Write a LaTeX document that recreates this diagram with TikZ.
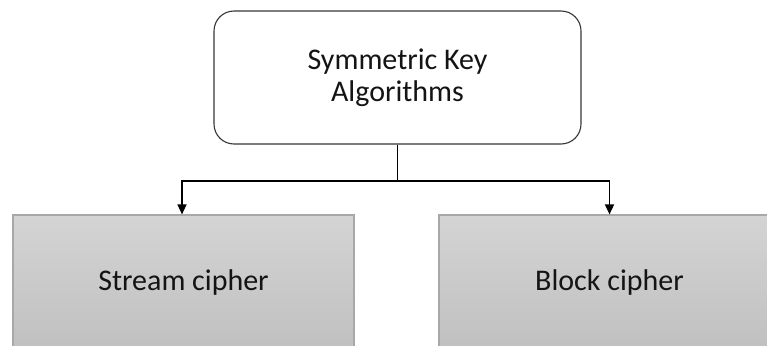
\documentclass[tikz,border=0pt]{standalone}
\usepackage{fontspec}
\setmainfont{Carlito}
\usetikzlibrary{arrows.meta}
\definecolor{edgegray}{HTML}{A8A8A8}
\definecolor{fillTop}{HTML}{D4D4D4}
\definecolor{fillBot}{HTML}{C0C0C0}
\definecolor{ink}{HTML}{141414}
\tikzset{
  rootbox/.style={draw=ink!85, line width=1.1pt, rounded corners=20pt, fill=white,
    minimum width=367pt, minimum height=133pt, inner sep=0pt, align=center,
    font=\fontsize{30}{32}\selectfont, text=ink},
  leafbox/.style={draw=edgegray, line width=1.2pt, top color=fillTop, bottom color=fillBot,
    minimum width=341pt, minimum height=135pt, inner sep=0pt,
    font=\fontsize{30}{32}\selectfont, text=ink},
  link/.style={line width=1.5pt, draw=black},
  arrowlink/.style={link, -{Triangle[width=9pt,length=10pt]}}
}
\begin{document}
\begin{tikzpicture}[x=1pt,y=1pt]
  \useasboundingbox (0,0) rectangle (767,-345);
  \clip (0,0) rectangle (767,-345);
  \fill[white] (0,0) rectangle (767,-345);
  % root node
  \node[rootbox] (root) at (397.5,-77.5) {Symmetric Key\\Algorithms};
  % leaves (run past the lower and right edges)
  \node[leafbox] (stream) at (183.5,-282.5) {Stream cipher};
  \node[leafbox] (block) at (609.5,-282.5) {Block cipher};
  % connectors
  \coordinate (split) at (397.5,-181);
  \draw[link] (root.south) -- (split);
  \draw[arrowlink] (split) -| ([xshift=-1.5pt]stream.north);
  \draw[arrowlink] (split) -| (block.north);
\end{tikzpicture}
\end{document}
